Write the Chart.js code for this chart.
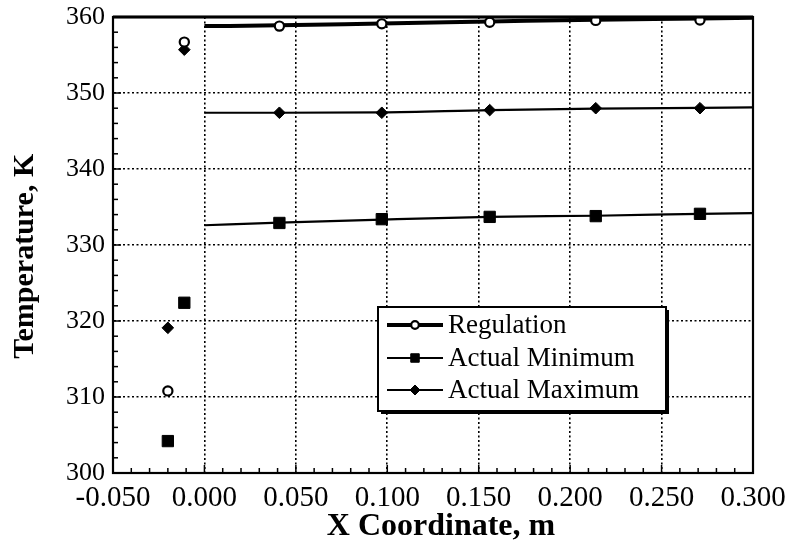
<!DOCTYPE html>
<html>
<head>
<meta charset="utf-8">
<script src="https://cdn.jsdelivr.net/npm/chart.js@4/dist/chart.umd.min.js"></script>
<style>
  html, body { margin: 0; padding: 0; background: #fff; }
  #wrap { width: 791px; height: 551px; }
</style>
</head>
<body>
<div id="wrap"><canvas id="c" width="791" height="551"></canvas></div>
<script>
// Series names
const seriesNames = ['Regulation', 'Actual Minimum', 'Actual Maximum'];

// Measuring stations along the channel (m)
const stationX = [0.041, 0.097, 0.156, 0.214, 0.271];
const regulationY = [358.8, 359.1, 359.3, 359.55, 359.6];
const minimumY = [332.9, 333.4, 333.7, 333.8, 334.1];
const maximumY = [347.4, 347.4, 347.75, 348.0, 348.0];

// Upstream readings (before the heated section)
const upstreamX = [-0.020, -0.011];
const upstreamRegulation = [310.8, 356.7];
const upstreamMinimum = [304.2, 322.4];
const upstreamMaximum = [319.1, 355.7];

// Fitted curves over the heated section
const curveX = [0.000, 0.041, 0.097, 0.156, 0.214, 0.271, 0.300];
const regulationCurve = [358.8, 358.9, 359.15, 359.4, 359.65, 359.8, 359.9];
const minimumCurve = [332.6, 332.95, 333.35, 333.7, 333.85, 334.1, 334.2];
const maximumCurve = [347.4, 347.4, 347.45, 347.75, 347.95, 348.05, 348.1];

// Axis tick labels
const xTickLabels = ['-0.050', '0.000', '0.050', '0.100', '0.150', '0.200', '0.250', '0.300'];
const yTickLabels = ['300', '310', '320', '330', '340', '350', '360'];

const pts = (xs, ys) => xs.map((x, i) => ({ x, y: ys[i] }));

const styles = [
  { pointStyle: 'circle', pointRadius: 4.6, pointBorderWidth: 2.2, pointBackgroundColor: '#fff', lineWidth: 4 },
  { pointStyle: 'rect', pointRadius: 8, pointBorderWidth: 1, pointBackgroundColor: '#000', lineWidth: 2.2 },
  { pointStyle: 'rectRot', pointRadius: 5.8, pointBorderWidth: 1, pointBackgroundColor: '#000', lineWidth: 2.2 }
];

const curves = [regulationCurve, minimumCurve, maximumCurve];
const marks = [regulationY, minimumY, maximumY];
const upstream = [upstreamRegulation, upstreamMinimum, upstreamMaximum];

const datasets = [];
seriesNames.forEach((name, i) => {
  const s = styles[i];
  datasets.push({
    label: name,
    data: pts(curveX, curves[i]),
    showLine: true,
    borderColor: '#000',
    borderWidth: s.lineWidth,
    pointRadius: 0,
    cubicInterpolationMode: 'monotone',
    order: 2
  });
  datasets.push({
    label: name + ' points',
    data: pts(stationX, marks[i]).concat(pts(upstreamX, upstream[i])),
    showLine: false,
    pointStyle: s.pointStyle,
    pointRadius: s.pointRadius,
    pointBorderWidth: s.pointBorderWidth,
    pointBackgroundColor: s.pointBackgroundColor,
    pointBorderColor: '#000',
    order: 1
  });
});

// Frame around the plot area plus inward minor tick marks
const frame = {
  id: 'frame',
  afterDraw(chart) {
    const { ctx, chartArea: a, scales } = chart;
    ctx.save();
    ctx.strokeStyle = '#000';
    ctx.lineCap = 'butt';
    const xs = scales.x, ys = scales.y;
    const xt = xs.ticks.map(t => t.value);
    ctx.lineWidth = 1.5;
    for (let k = 0; k < xt.length; k++) {
      const px = xs.getPixelForValue(xt[k]);
      ctx.beginPath(); ctx.moveTo(px, a.bottom); ctx.lineTo(px, a.bottom - 8); ctx.stroke();
      if (k < xt.length - 1) {
        const step = (xt[k + 1] - xt[k]) / 5;
        for (let m = 1; m < 5; m++) {
          const p = xs.getPixelForValue(xt[k] + m * step);
          ctx.beginPath(); ctx.moveTo(p, a.bottom); ctx.lineTo(p, a.bottom - 5); ctx.stroke();
        }
      }
    }
    const yt = ys.ticks.map(t => t.value);
    for (let k = 0; k < yt.length; k++) {
      const py = ys.getPixelForValue(yt[k]);
      ctx.beginPath(); ctx.moveTo(a.left, py); ctx.lineTo(a.left + 8, py); ctx.stroke();
      if (k < yt.length - 1) {
        const step = (yt[k + 1] - yt[k]) / 5;
        for (let m = 1; m < 5; m++) {
          const p = ys.getPixelForValue(yt[k] + m * step);
          ctx.beginPath(); ctx.moveTo(a.left, p); ctx.lineTo(a.left + 5, p); ctx.stroke();
        }
      }
    }
    ctx.lineWidth = 2.2;
    ctx.strokeRect(a.left, a.top, a.right - a.left, a.bottom - a.top);
    ctx.lineWidth = 3;
    ctx.beginPath(); ctx.moveTo(a.left, a.top); ctx.lineTo(a.right, a.top); ctx.stroke();
    ctx.restore();
  }
};

// Legend panel with line + marker samples
const legendBox = {
  id: 'legendBox',
  afterDraw(chart) {
    const ctx = chart.ctx;
    const x0 = 378, y0 = 307, w = 288, h = 104;
    ctx.save();
    ctx.fillStyle = '#000';
    ctx.fillRect(x0 + 3, y0 + 3, w, h);
    ctx.fillStyle = '#fff';
    ctx.fillRect(x0, y0, w, h);
    ctx.strokeStyle = '#000';
    ctx.lineWidth = 2;
    ctx.strokeRect(x0, y0, w, h);
    const rows = [325, 358, 390];
    ctx.font = '27px "Liberation Serif"';
    ctx.textBaseline = 'middle';
    ctx.textAlign = 'left';
    seriesNames.forEach((name, i) => {
      const s = styles[i];
      const y = rows[i];
      ctx.strokeStyle = '#000';
      ctx.lineWidth = s.lineWidth;
      ctx.beginPath(); ctx.moveTo(387, y); ctx.lineTo(443, y); ctx.stroke();
      ctx.fillStyle = s.pointBackgroundColor;
      ctx.lineWidth = s.pointBorderWidth;
      const r = i === 0 ? 3.8 : (i === 1 ? 6 : 5);
      Chart.helpers.drawPoint(ctx, { pointStyle: s.pointStyle, radius: r, borderWidth: s.pointBorderWidth, rotation: 0 }, 415, y);
      ctx.fillStyle = '#000';
      ctx.fillText(name, 448, y + 1);
    });
    ctx.restore();
  }
};

new Chart(document.getElementById('c'), {
  type: 'scatter',
  data: { datasets },
  options: {
    responsive: false,
    animation: false,
    devicePixelRatio: 1,
    layout: { padding: { left: 0, top: 17, right: 38, bottom: 0 } },
    plugins: { legend: { display: false }, tooltip: { enabled: false } },
    scales: {
      x: {
        type: 'linear',
        min: -0.05, max: 0.3,
        afterFit: s => { s.height = 78; s.paddingLeft = 0; s.paddingRight = 0; },
        ticks: {
          stepSize: 0.05,
          color: '#000',
          padding: 8,
          maxRotation: 0,
          autoSkip: false,
          font: { family: '"Liberation Serif"', size: 29 },
          callback: (v, i) => xTickLabels[i]
        },
        grid: { color: '#000', lineWidth: 1.6, drawTicks: false },
        border: { display: true, color: '#000', width: 2, dash: [2, 2.5] },
        title: {
          display: true, text: '  X Coordinate, m', color: '#000',
          font: { family: '"Liberation Serif"', size: 32, weight: 'bold' },
          padding: { top: 0, bottom: 5 }
        }
      },
      y: {
        type: 'linear',
        min: 300, max: 360,
        afterFit: s => { s.width = 113; s.paddingTop = 0; s.paddingBottom = 0; },
        ticks: {
          stepSize: 10,
          color: '#000',
          padding: 8,
          font: { family: '"Liberation Serif"', size: 26, lineHeight: 1 },
          callback: (v, i) => yTickLabels[i]
        },
        grid: { color: '#000', lineWidth: 1.6, drawTicks: false },
        border: { display: true, color: '#000', width: 2, dash: [2, 2.5] },
        title: {
          display: true, text: 'Temperature, K   ', color: '#000',
          font: { family: '"Liberation Serif"', size: 30, weight: 'bold' },
          padding: { top: 7, bottom: 0 }
        }
      }
    }
  },
  plugins: [frame, legendBox]
});
</script>
</body>
</html>
